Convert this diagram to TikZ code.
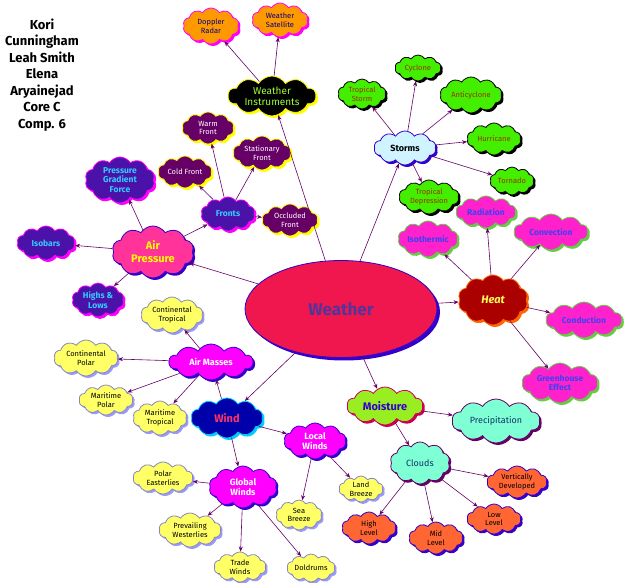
\documentclass[tikz,border=0pt]{standalone}
\usepackage{fontspec}
\setmainfont{Fira Sans}
\usetikzlibrary{shapes.symbols,shapes.geometric,shadows,arrows.meta}
\definecolor{arr}{HTML}{660066}
\definecolor{cmag}{HTML}{FF00FF}
\definecolor{cyel}{HTML}{FFFF00}
\definecolor{cyelf}{HTML}{FFFF66}
\definecolor{cyelsh}{HTML}{9999FF}
\definecolor{cyeld}{HTML}{8888BB}
\definecolor{corange}{HTML}{FF9900}
\definecolor{cnavy}{HTML}{000080}
\definecolor{cind}{HTML}{4A12A8}
\definecolor{ccyan}{HTML}{33CCFF}
\definecolor{cpink}{HTML}{FF3399}
\definecolor{cblue}{HTML}{3300CC}
\definecolor{cgreen}{HTML}{44EE00}
\definecolor{cbrown}{HTML}{993300}
\definecolor{cpk}{HTML}{FF22CC}
\definecolor{cpksh}{HTML}{66CC44}
\definecolor{cpktx}{HTML}{4040F0}
\definecolor{cheat}{HTML}{AA0000}
\definecolor{cheatb}{HTML}{FF6600}
\definecolor{cheattx}{HTML}{FFFF55}
\definecolor{clime}{HTML}{99EE22}
\definecolor{climesh}{HTML}{CC0055}
\definecolor{caqua}{HTML}{7FFFD4}
\definecolor{caquatx}{HTML}{113366}
\definecolor{corr}{HTML}{FF6633}
\definecolor{cstorm}{HTML}{D0F4FF}
\definecolor{cwind}{HTML}{0000AA}
\definecolor{cwindg}{HTML}{00CCFF}
\definecolor{cwindtx}{HTML}{FF3366}
\definecolor{cblktx}{HTML}{99FF33}
\definecolor{cweather}{HTML}{F0164E}
\definecolor{cweathertx}{HTML}{553399}
\tikzset{
  x=1pt,y=-1pt,
  cl/.style n args={4}{cloud, cloud puffs=10, cloud puff arc=115, cloud ignores aspect,
     inner sep=0pt, fill=#1, draw=#2, line width=0.8pt, text=#4, align=center,
     font=\fontsize{7.5}{8.5}\selectfont,
     drop shadow={shadow xshift=2pt, shadow yshift=-2pt, fill=#3, opacity=1}},
  sz/.style 2 args={minimum width=#1, minimum height=#2},
  orn/.style={cl={corange}{cmag}{cmag}{cnavy}},
  blk/.style={cl={black}{cyel}{cyel}{cblktx}, font=\fontsize{10}{11}\selectfont},
  frn/.style={cl={arr}{cyel}{cyel}{white}},
  ind/.style={cl={cind}{cmag}{cmag}{ccyan}, font=\bfseries\fontsize{8.5}{9.5}\selectfont},
  ylw/.style={cl={cyelf}{cyeld}{cyelsh}{black}},
  mag/.style={cl={cmag}{cblue}{cblue}{white}, font=\bfseries\fontsize{9}{10}\selectfont},
  grn/.style={cl={cgreen}{black}{black}{cbrown}},
  pnk/.style={cl={cpk}{cpksh}{cpksh}{cpktx}, font=\bfseries\fontsize{8.5}{9.5}\selectfont},
  aqua/.style={cl={caqua}{arr}{arr}{caquatx}, font=\fontsize{9}{10}\selectfont},
  orr/.style={cl={corr}{cblue}{cblue}{black}},
  ar/.style={draw=arr, line width=0.6pt, -{Stealth[length=5pt,width=4pt]}},
}
\begin{document}
\begin{tikzpicture}
\useasboundingbox (0,0) rectangle (625,583);
% title
\node[font=\bfseries\fontsize{13}{16.5}\selectfont, align=center] (title) at (42,75)
  {Kori\\Cunningham\\Leah Smith\\Elena\\Aryainejad\\Core C\\Comp. 6};
% centre
\node[ellipse, minimum width=192, minimum height=97, fill=cweather, draw=cblue, line width=0.8pt,
  drop shadow={shadow xshift=3pt, shadow yshift=-3pt, fill=cblue, opacity=1},
  text=cweathertx, font=\bfseries\fontsize{17}{18}\selectfont] (w) at (341,309) {Weather};
% instruments
\node[blk, sz={88}{40}] (wi) at (272,96) {Weather\\Instruments};
\node[orn, sz={56}{36}] (dr) at (211,26) {Doppler\\Radar};
\node[orn, sz={56}{34}] (ws) at (280,20) {Weather\\Satellite};
% fronts / air pressure
\node[frn, sz={52}{32}] (wf) at (208,128) {Warm\\Front};
\node[frn, sz={58}{34}] (sf) at (262,153) {Stationary\\Front};
\node[frn, sz={54}{32}] (cf) at (185,172) {Cold Front};
\node[frn, sz={56}{32}] (of) at (290,220) {Occluded\\Front};
\node[ind, sz={70}{46}] (pg) at (120,180) {Pressure\\Gradient\\Force};
\node[ind, sz={54}{34}] (fr) at (228,214) {Fronts};
\node[ind, sz={58}{34}] (iso) at (46,243) {Isobars};
\node[ind, sz={52}{34}] (hl) at (98,300) {Highs \&\\Lows};
\node[cl={cpink}{cblue}{cblue}{cyel}, sz={82}{52},
  font=\bfseries\fontsize{11}{13}\selectfont] (ap) at (153,252) {Air\\Pressure};
% air masses / wind
\node[ylw, sz={62}{36}] (ct) at (172,315) {Continental\\Tropical};
\node[ylw, sz={64}{36}] (cp) at (86,358) {Continental\\Polar};
\node[mag, sz={84}{36}] (am) at (211,362) {Air Masses};
\node[ylw, sz={54}{30}] (mp) at (106,400) {Maritime\\Polar};
\node[ylw, sz={54}{34}] (mt) at (160,418) {Maritime\\Tropical};
\node[cl={cwind}{cwindg}{cwindg}{cwindtx}, sz={72}{40}, font=\bfseries\fontsize{11}{12}\selectfont] (wd) at (227,418) {Wind};
\node[mag, sz={62}{36}] (lw) at (315,441) {Local\\Winds};
\node[mag, sz={68}{42}] (gw) at (243,487) {Global\\Winds};
\node[ylw, sz={60}{32}] (pe) at (163,478) {Polar\\Easterlies};
\node[ylw, sz={46}{30}] (sb) at (299,515) {Sea\\Breeze};
\node[ylw, sz={44}{26}] (lb) at (361,489) {Land\\Breeze};
\node[ylw, sz={62}{34}] (pw) at (190,530) {Prevailing\\Westerlies};
\node[ylw, sz={52}{30}] (tw) at (240,567) {Trade\\Winds};
\node[ylw, sz={48}{28}] (dd) at (311,568) {Doldrums};
% storms
\node[cl={cstorm}{cblue}{cblue}{black}, sz={62}{34}, font=\bfseries\fontsize{9}{10}\selectfont] (st) at (405,148) {Storms};
\node[grn, sz={48}{30}] (ts) at (362,94) {Tropical\\Storm};
\node[grn, sz={46}{26}] (cy) at (418,68) {Cyclone};
\node[grn, sz={62}{36}] (ac) at (471,95) {Anticyclone};
\node[grn, sz={54}{32}] (hu) at (494,139) {Hurricane};
\node[grn, sz={44}{28}] (to) at (512,181) {Tornado};
\node[grn, sz={60}{34}] (td) at (429,197) {Tropical\\Depression};
% heat
\node[pnk, sz={60}{32}] (ra) at (486,212) {Radiation};
\node[pnk, sz={74}{36}] (cv) at (551,232) {Convection};
\node[pnk, sz={60}{36}] (it) at (428,239) {Isothermic};
\node[cl={cheat}{cheatb}{cheatb}{cheattx}, sz={70}{50}, font=\bfseries\itshape\fontsize{11}{12}\selectfont] (ht) at (493,300) {Heat};
\node[pnk, sz={76}{36}] (cd) at (584,320) {Conduction};
\node[pnk, sz={76}{40}] (ge) at (560,383) {Greenhouse\\Effect};
% moisture
\node[cl={clime}{climesh}{climesh}{cblue}, sz={76}{38}, font=\bfseries\fontsize{11}{12}\selectfont] (mo) at (385,406) {Moisture};
\node[aqua, sz={88}{44}] (pr) at (496,421) {Precipitation};
\node[aqua, sz={60}{42}] (clo) at (420,463) {Clouds};
\node[orr, sz={60}{32}] (vd) at (517,482) {Vertically\\Developed};
\node[orr, sz={54}{32}] (hi) at (369,528) {High\\Level};
\node[orr, sz={54}{32}] (ml) at (436,538) {Mid\\Level};
\node[orr, sz={54}{30}] (ll) at (494,519) {Low\\Level};
% connectors
\draw[ar] (w) -- (wi);
\draw[ar] (wi) -- (dr);
\draw[ar] (wi) -- (ws);
\draw[ar] (w) -- (st);
\foreach \t in {ts,cy,ac,hu,to,td} \draw[ar] (st) -- (\t);
\draw[ar] (w) -- (ht);
\foreach \t in {it,ra,cv,cd,ge} \draw[ar] (ht) -- (\t);
\draw[ar] (w) -- (mo);
\draw[ar] (mo) -- (pr);
\draw[ar] (mo) -- (clo);
\foreach \t in {vd,hi,ml,ll} \draw[ar] (clo) -- (\t);
\draw[ar] (w) -- (ap);
\foreach \t in {iso,pg,fr,hl} \draw[ar] (ap) -- (\t);
\foreach \t in {wf,sf,cf,of} \draw[ar] (fr) -- (\t);
\draw[ar] (w) -- (wd);
\draw[ar] (wd) -- (am);
\foreach \t in {ct,cp,mp,mt} \draw[ar] (am) -- (\t);
\draw[ar] (wd) -- (lw);
\draw[ar] (wd) -- (gw);
\draw[ar] (lw) -- (sb);
\draw[ar] (lw) -- (lb);
\foreach \t in {pe,pw,tw,dd} \draw[ar] (gw) -- (\t);
\end{tikzpicture}
\end{document}
